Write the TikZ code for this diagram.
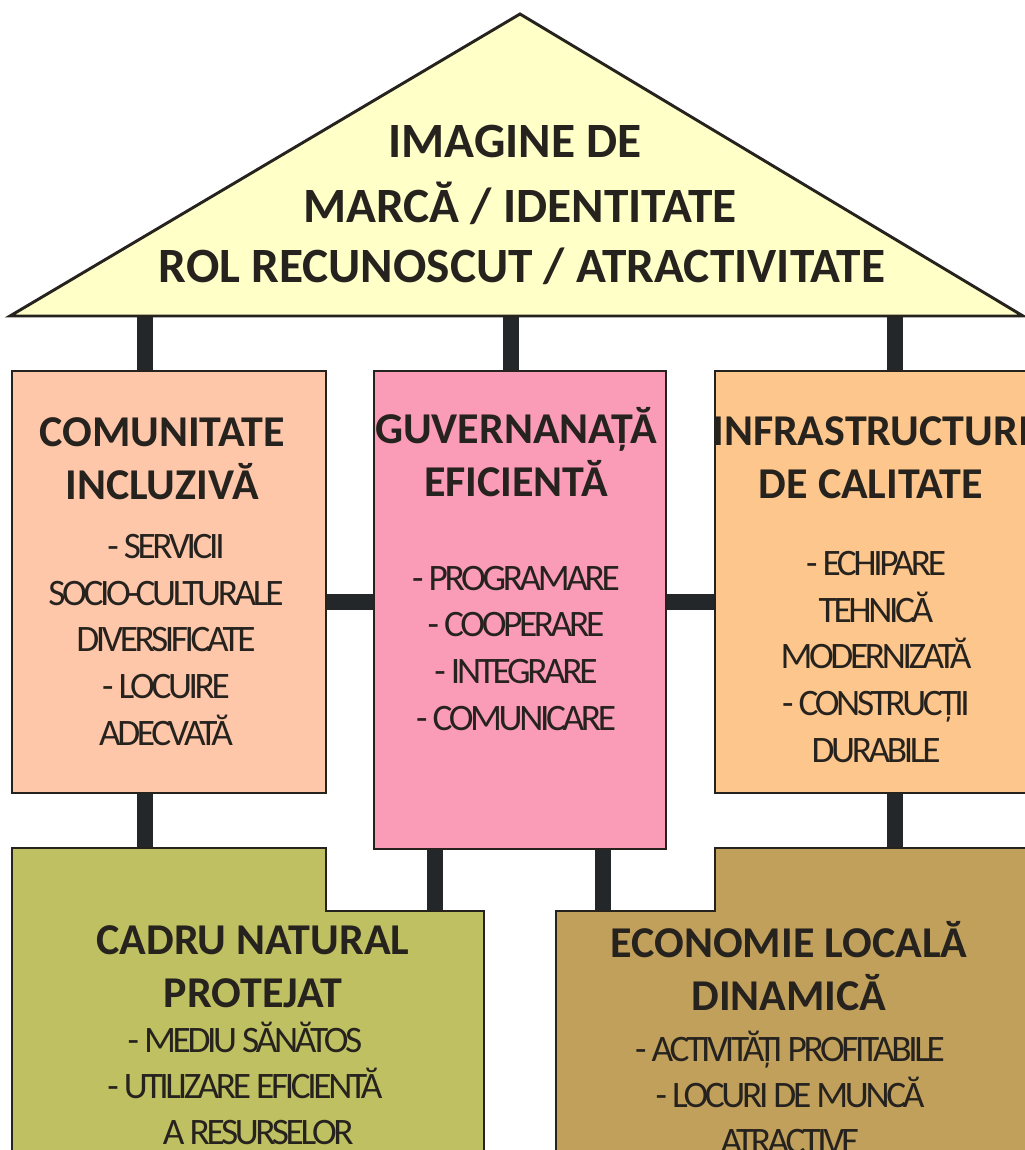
\documentclass[tikz,border=0pt]{standalone}
\usepackage{fontspec}
\setmainfont{Carlito}
\newfontfamily\listfont{Carlito}[LetterSpace=-9]
\usepackage{xcolor}
\usetikzlibrary{backgrounds}
\definecolor{roofyellow}{HTML}{FFFFC8}
\definecolor{communpeach}{HTML}{FFC7AA}
\definecolor{govpink}{HTML}{FA9BB8}
\definecolor{infraorange}{HTML}{FCC68C}
\definecolor{natureolive}{HTML}{BFC062}
\definecolor{econbrown}{HTML}{C1A05C}
\definecolor{beamdark}{HTML}{24272A}
\definecolor{inkdark}{HTML}{26221E}

\begin{document}
\begin{tikzpicture}[
  x=0.75pt, y=-0.75pt,
  every node/.style={text=inkdark},
  block/.style={draw=inkdark, line width=2.2pt, inner sep=0pt, outer sep=0pt, anchor=north west},
  blockpath/.style={draw=inkdark, line width=2.2pt, line join=miter},
  beam/.style={draw=beamdark, line width=12.5pt},
  roofhead/.style={font=\fontsize{37}{45}\selectfont\bfseries, anchor=base},
  heading/.style={font=\fontsize{33}{39.75}\selectfont\bfseries, align=center, anchor=base},
  items/.style={font=\listfont\fontsize{28}{35}\selectfont, align=center, anchor=base}
]
\useasboundingbox (0,0) rectangle (1025,1150);
\clip (0,0) rectangle (1025,1150);

% roof
\coordinate (roofL) at (10,316);
\coordinate (roofT) at (520,14);
\coordinate (roofR) at (1023,316);
\draw[blockpath, fill=roofyellow] (roofL) -- (roofT) -- (roofR) -- cycle;
\node[roofhead] (roof1) at (515,157) {IMAGINE DE};
\node[roofhead] (roof2) at (520,222) {MARCĂ / IDENTITATE};
\node[roofhead] (roof3) at (522,282) {ROL RECUNOSCUT / ATRACTIVITATE};

% pillars (multi-line nodes sit on the baseline of their last line)
\node[block, fill=communpeach, minimum width=235.5pt, minimum height=316.5pt] (comunitate) at (12,371) {};
\node[block, fill=govpink, minimum width=219pt, minimum height=358.5pt] (guvernanta) at (374,371) {};
\node[block, fill=infraorange, minimum width=234pt, minimum height=316.5pt] (infra) at (715,371) {};

\node[heading] (comunitateT) at (162,499) {COMUNITATE\\INCLUZIVĂ};
\node[items] (comunitateL) at (166,745) {- SERVICII\\SOCIO-CULTURALE\\DIVERSIFICATE\\- LOCUIRE\\ADECVATĂ};
\node[heading] (guvernantaT) at (516,496) {GUVERNANAȚĂ\\EFICIENTĂ};
\node[items] (guvernantaL) at (516,730) {- PROGRAMARE\\- COOPERARE\\- INTEGRARE\\- COMUNICARE};
\node[heading] (infraT) at (871,498) {INFRASTRUCTURI\\DE CALITATE};
\node[items] (infraL) at (876,762) {- ECHIPARE\\TEHNICĂ\\MODERNIZATĂ\\- CONSTRUCȚII\\DURABILE};

% foundations
\coordinate (cadruNW) at (12,848);
\coordinate (cadruStep) at (326,911);
\coordinate (cadruE) at (484,1160);
\draw[blockpath, fill=natureolive] (cadruNW) -- (cadruNW -| cadruStep) -- (cadruStep) -- (cadruStep -| cadruE) -- (cadruE) -- (cadruE -| cadruNW) -- cycle;
\coordinate (econW) at (556,1160);
\coordinate (econStep) at (715,911);
\coordinate (econNE) at (1035,848);
\draw[blockpath, fill=econbrown] (econW) -- (econW |- econStep) -- (econStep) -- (econStep |- econNE) -- (econNE) -- (econNE |- econW) -- cycle;

\node[heading] (cadruT) at (253,1007) {CADRU NATURAL\\PROTEJAT};
\node[items, font=\listfont\fontsize{28}{34.5}\selectfont] (cadruL) at (245,1144) {- MEDIU SĂNĂTOS\\- UTILIZARE EFICIENTĂ\\\hspace*{20pt}A RESURSELOR};
\node[heading] (econT) at (789,1010) {ECONOMIE LOCALĂ\\DINAMICĂ};
\node[items, font=\listfont\fontsize{28}{34.5}\selectfont] (econL) at (790,1153) {- ACTIVITĂȚI PROFITABILE\\- LOCURI DE MUNCĂ\\ATRACTIVE};

\begin{scope}[on background layer]
\coordinate (p1) at (145,316);
\coordinate (p2) at (511,316);
\coordinate (p3) at (895,316);
\coordinate (hbar) at (350,602);
\coordinate (q1) at (435,911);
\coordinate (q2) at (603,911);
\draw[beam] (p1) -- (p1 |- comunitate.north);
\draw[beam] (p2) -- (p2 |- guvernanta.north);
\draw[beam] (p3) -- (p3 |- infra.north);
\draw[beam] (comunitate.east |- hbar) -- (guvernanta.west |- hbar);
\draw[beam] (guvernanta.east |- hbar) -- (infra.west |- hbar);
\draw[beam] (p1 |- comunitate.south) -- (p1 |- cadruNW);
\draw[beam] (p3 |- infra.south) -- (p3 |- econNE);
\draw[beam] (q1 |- guvernanta.south) -- (q1);
\draw[beam] (q2 |- guvernanta.south) -- (q2);
\end{scope}
\end{tikzpicture}
\end{document}
